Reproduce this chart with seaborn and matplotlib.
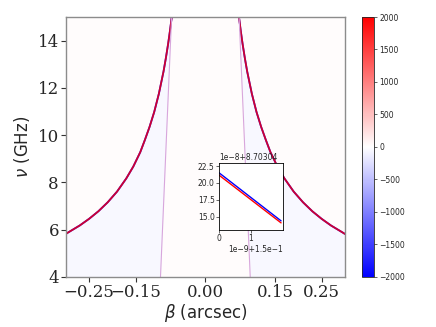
import numpy as np
import pandas as pd
import matplotlib
matplotlib.use("Agg")
import matplotlib.pyplot as plt
import seaborn as sns

# ---- data ----
# outer curve (left branch; right branch is its mirror image)
curve_beta = [-0.300, -0.297, -0.270, -0.250, -0.230, -0.210, -0.190, -0.170, -0.155,
              -0.140, -0.130, -0.120, -0.110, -0.100, -0.090, -0.085, -0.080,
              -0.076, -0.0726, -0.0710]
curve_nu = [5.82, 5.86, 6.18, 6.46, 6.78, 7.16, 7.61, 8.17, 8.67,
            9.28, 9.80, 10.35, 10.98, 11.75, 12.69, 13.25, 13.87,
            14.43, 14.95, 15.20]
# thin inner lines (left one; right one mirrored)
inner_beta = [-0.0965, -0.0835, -0.0726]
inner_nu = [4.0, 10.0, 15.0]
# inset (offsets: beta 1.5e-1, nu 8.70304)
inset_dx = [0.0, 1.95]            # x 1e-9
inset_red = [21.2, 14.05]         # y 1e-8
inset_blue = [21.55, 14.35]
beta_off, nu_off = 0.15, 8.70304
# background field levels
field_outer = 20.0
field_inner = -60.0
cbar_ticks = [-2000, -1500, -1000, -500, 0, 500, 1000, 1500, 2000]
xticks = [-0.25, -0.15, 0.00, 0.15, 0.25]
yticks = [4, 6, 8, 10, 12, 14]

sns.set_style("white")
plt.rcParams["font.family"] = ["DejaVu Sans"]

cmap = plt.get_cmap("bwr")
norm = matplotlib.colors.Normalize(vmin=-2000, vmax=2000)

fig = plt.figure(figsize=(4.36, 3.27), dpi=100)
ax = fig.add_axes([0.151, 0.153, 0.640, 0.795])
cax = fig.add_axes([0.830, 0.153, 0.027, 0.795])

ax.set_facecolor(cmap(norm(field_outer)))

# lavender region between outer curve and inner line (both sides)
nu_grid = np.linspace(4, 15, 200)
cb = np.interp(nu_grid, curve_nu, curve_beta, left=-0.3)
ib = np.interp(nu_grid, inner_nu, inner_beta)
ax.fill_betweenx(nu_grid, np.maximum(cb, -0.3), ib, color=cmap(norm(field_inner)), lw=0)
ax.fill_betweenx(nu_grid, -ib, -np.maximum(cb, -0.3), color=cmap(norm(field_inner)), lw=0)

cb_arr = np.array(curve_beta)
cn_arr = np.array(curve_nu)
for sgn in (1, -1):
    df = pd.DataFrame({"beta": sgn * cb_arr, "nu": cn_arr})
    sns.lineplot(data=df, x="beta", y="nu", sort=False, estimator=None, ax=ax,
                 color="blue", lw=1.3)
    sns.lineplot(data=df, x="beta", y="nu", sort=False, estimator=None, ax=ax,
                 color="red", lw=1.3, alpha=0.8)
    dfi = pd.DataFrame({"beta": sgn * np.array(inner_beta), "nu": inner_nu})
    sns.lineplot(data=dfi, x="beta", y="nu", sort=False, estimator=None, ax=ax,
                 color="#d8a6dc", lw=0.8)

ax.set_xlim(-0.3, 0.3)
ax.set_ylim(4, 15)
ax.set_xticks(xticks)
ax.set_yticks(yticks)
for lab in ax.get_xticklabels() + ax.get_yticklabels():
    lab.set_family("DejaVu Serif")
    lab.set_fontsize(12)
ax.tick_params(axis="both", length=3.5, width=0.8, color="#333333", pad=1.5,
               bottom=True, left=True)
for s in ax.spines.values():
    s.set_color("#8c8c8c")
    s.set_linewidth(1.0)
ax.set_xlabel(r"$\beta$ (arcsec)", fontsize=12, labelpad=1)
ax.set_ylabel(r"$\nu$ (GHz)", fontsize=12, labelpad=4)

# inset
ins = ax.inset_axes([0.548, 0.181, 0.229, 0.258])
ins.set_facecolor("white")
xs = beta_off + np.array(inset_dx) * 1e-9
sns.lineplot(x=xs, y=nu_off + np.array(inset_blue) * 1e-8, ax=ins, color="blue", lw=1.0)
sns.lineplot(x=xs, y=nu_off + np.array(inset_red) * 1e-8, ax=ins, color="red", lw=1.0)
ins.set_xlim(beta_off, beta_off + 2e-9)
ins.set_ylim(nu_off + 13.0e-8, nu_off + 23.0e-8)
ins.set_xticks([beta_off, beta_off + 1e-9])
ins.set_yticks([nu_off + v * 1e-8 for v in (15.0, 17.5, 20.0, 22.5)])
ins.set_xticklabels(["0", "1"])
ins.set_yticklabels(["15.0", "17.5", "20.0", "22.5"])
ins.tick_params(labelsize=5.5, length=2, width=0.5, pad=1, bottom=True, left=True)
for s in ins.spines.values():
    s.set_color("black")
    s.set_linewidth(0.6)
ins.text(0.0, 1.01, "1e\u22128+8.70304", transform=ins.transAxes, fontsize=5.5,
         ha="left", va="bottom")
ins.text(1.0, -0.22, "1e\u22129+1.5e\u22121", transform=ins.transAxes, fontsize=5.5,
         ha="right", va="top")

# colorbar
sm = matplotlib.cm.ScalarMappable(norm=norm, cmap=cmap)
cbar = fig.colorbar(sm, cax=cax, ticks=cbar_ticks)
cbar.ax.tick_params(labelsize=5.5, length=2.5, width=0.5, pad=1.5)
cbar.outline.set_linewidth(0.6)

fig.savefig("out.png", dpi=100)
